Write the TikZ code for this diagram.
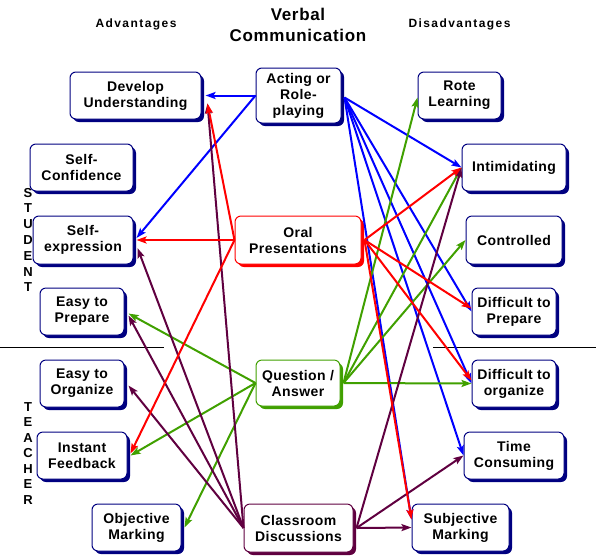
\documentclass[tikz,border=0pt]{standalone}
\usepackage{fontspec}
\setmainfont{Liberation Sans}
\usetikzlibrary{arrows.meta,shadows}
\definecolor{navy}{RGB}{0,0,128}
\definecolor{qgreen}{RGB}{64,160,0}
\definecolor{cpurple}{RGB}{96,0,64}
\definecolor{ablue}{RGB}{0,0,255}
\definecolor{ared}{RGB}{255,0,0}
\begin{document}
\begin{tikzpicture}[x=1pt,y=-1pt,
  box/.style={rectangle, rounded corners=6pt, draw=#1, line width=1pt, fill=white,
    drop shadow={shadow xshift=3pt, shadow yshift=-3pt, fill=#1, opacity=1},
    inner sep=0pt, align=center, font=\bfseries\fontsize{14}{16}\selectfont\addfontfeature{LetterSpace=3}},
  box/.default=navy,
  conn/.style={draw=#1, line width=2pt, -{Stealth[length=10pt,width=7pt,inset=2pt]}},
  head/.style={font=\bfseries\fontsize{12}{14}\selectfont\addfontfeature{LetterSpace=12}, anchor=base, inner sep=0pt},
  side/.style={font=\bfseries\fontsize{13}{15.8}\selectfont, align=center, inner sep=0pt}
]
\useasboundingbox (0,0) rectangle (599,555);

% titles
\node[font=\bfseries\fontsize{17}{21}\selectfont\addfontfeature{LetterSpace=4}, align=center, inner sep=0pt] (title) at (298,25) {Verbal\\Communication};
\node[head] (adv) at (136,27.5) {Advantages};
\node[head] (dis) at (459.5,27.5) {Disadvantages};
\node[side] (stud) at (28,240) {S\\T\\U\\D\\E\\N\\T};
\node[side, font=\bfseries\fontsize{13}{15.5}\selectfont] (teach) at (28,453.5) {T\\E\\A\\C\\H\\E\\R};

% separators
\draw[line width=1pt] (0,347) -- (164,347);
\draw[line width=1pt] (433,347) -- (596,347);

% left column
\node[box, minimum width=131pt, minimum height=47pt] (dev) at (135.5,95.5) {Develop\\Understanding};
\node[box, minimum width=103pt, minimum height=47pt] (selfconf) at (81.5,167.5) {Self-\\Confidence};
\node[box, minimum width=100pt, minimum height=48pt] (selfexp) at (83,240) {Self-\\expression};
\node[box, minimum width=84pt, minimum height=47pt] (easyprep) at (82,311.5) {Easy to\\Prepare};
\node[box, minimum width=84pt, minimum height=47pt] (easyorg) at (82,383.5) {Easy to\\Organize};
\node[box, minimum width=90pt, minimum height=47pt] (instant) at (82,455.5) {Instant\\Feedback};
\node[box, minimum width=89pt, minimum height=47pt] (objective) at (136.5,527.5) {Objective\\Marking};

% centre column
\node[box, minimum width=85pt, minimum height=55pt] (acting) at (298.5,95.5) {Acting or\\Role-\\playing};
\node[box=ared, minimum width=126pt, minimum height=48pt] (oral) at (298,240) {Oral\\Presentations};
\node[box=qgreen, minimum width=84pt, minimum height=46pt] (qa) at (298,383) {Question /\\Answer};
\node[box=cpurple, minimum width=109pt, minimum height=48pt] (class) at (298.5,528) {Classroom\\Discussions};

% right column
\node[box, minimum width=83pt, minimum height=47pt] (rote) at (459.5,95.5) {Rote\\Learning};
\node[box, minimum width=104pt, minimum height=47pt] (intim) at (514,167.5) {Intimidating};
\node[box, minimum width=96pt, minimum height=48pt] (controlled) at (514,240) {Controlled};
\node[box, minimum width=84pt, minimum height=47pt] (diffprep) at (514,311.5) {Difficult to\\Prepare};
\node[box, minimum width=84pt, minimum height=47pt] (difforg) at (514,383.5) {Difficult to\\organize};
\node[box, minimum width=100pt, minimum height=47pt] (time) at (514,455.5) {Time\\Consuming};
\node[box, minimum width=97pt, minimum height=47pt] (subj) at (460.5,527.5) {Subjective\\Marking};

% blue: acting
\draw[conn=ablue] (acting.west) -- ([xshift=4pt]dev.east);
\draw[conn=ablue] (acting.west) -- ([xshift=3pt,yshift=2pt]selfexp.east);
\draw[conn=ablue] ([xshift=3pt,yshift=-2pt]acting.east) -- (intim.west);
\draw[conn=ablue] ([xshift=3pt,yshift=-2pt]acting.east) -- (diffprep.west);
\draw[conn=ablue] ([xshift=3pt,yshift=-2pt]acting.east) -- (difforg.west);
\draw[conn=ablue] ([xshift=3pt,yshift=-2pt]acting.east) -- (time.west);
\draw[conn=ablue] ([xshift=3pt,yshift=-2pt]acting.east) -- ([yshift=8pt]subj.west);

% green: question / answer
\draw[conn=qgreen] (qa.west) -- ([xshift=4pt,yshift=-2pt]easyprep.east);
\draw[conn=qgreen] (qa.west) -- ([xshift=3pt]instant.east);
\draw[conn=qgreen] (qa.west) -- ([xshift=3pt]objective.east);
\draw[conn=qgreen] ([xshift=3pt]qa.east) -- ([yshift=-2pt]rote.west);
\draw[conn=qgreen] ([xshift=3pt]qa.east) -- (intim.west);
\draw[conn=qgreen] ([xshift=3pt]qa.east) -- (controlled.west);
\draw[conn=qgreen] ([xshift=3pt]qa.east) -- (difforg.west);

% purple: classroom discussions
\draw[conn=cpurple] (class.west) -- ([xshift=6pt,yshift=-8pt]dev.east);
\draw[conn=cpurple] (class.west) -- ([xshift=4pt,yshift=-8pt]selfexp.east);
\draw[conn=cpurple] (class.west) -- ([xshift=4pt,yshift=-4pt]easyprep.east);
\draw[conn=cpurple] (class.west) -- ([xshift=4pt,yshift=-2pt]easyorg.east);
\draw[conn=cpurple] ([xshift=3pt]class.east) -- (intim.west);
\draw[conn=cpurple] ([xshift=3pt]class.east) -- (time.west);
\draw[conn=cpurple] ([xshift=3pt]class.east) -- (subj.west);

% red: oral presentations
\draw[conn=ared] (oral.west) -- ([xshift=3pt]selfexp.east);
\draw[conn=ared] (oral.west) -- ([xshift=6pt,yshift=-8pt]dev.east);
\draw[conn=ared] (oral.west) -- ([xshift=3pt,yshift=2pt]instant.east);
\draw[conn=ared] ([xshift=3pt]oral.east) -- (intim.west);
\draw[conn=ared] ([xshift=3pt]oral.east) -- ([yshift=3pt]diffprep.west);
\draw[conn=ared] ([xshift=3pt]oral.east) -- ([yshift=3pt]difforg.west);
\draw[conn=ared] ([xshift=3pt]oral.east) -- ([yshift=8pt]subj.west);
\end{tikzpicture}
\end{document}
